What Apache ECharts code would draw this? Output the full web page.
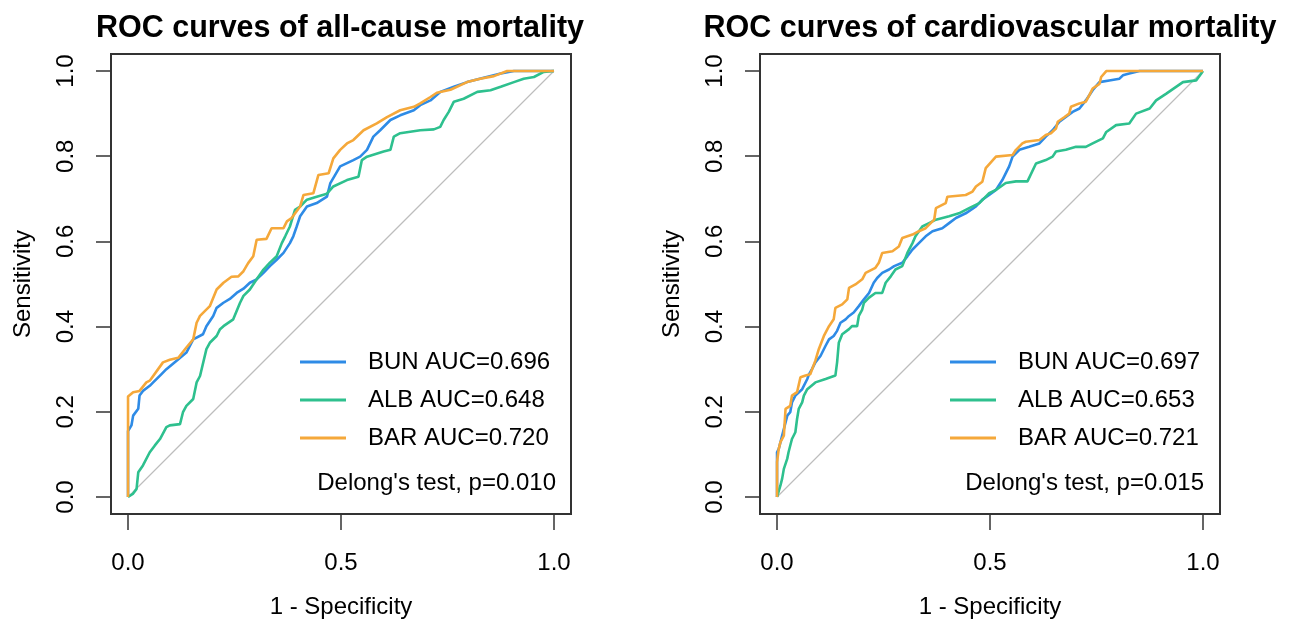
<!DOCTYPE html>
<html>
<head>
<meta charset="utf-8">
<script src="https://cdn.jsdelivr.net/npm/echarts@6/dist/echarts.min.js"></script>
<style>
  html, body { margin: 0; padding: 0; background: #fff; }
  #main { width: 1290px; height: 624px; }
</style>
</head>
<body>
<div id="main"></div>
<script>
// ROC points [1 - specificity, sensitivity]
var allBun = [[0,0],[0,0.155],[0.004,0.156],[0.008,0.168],[0.012,0.191],[0.024,0.207],[0.027,0.238],[0.035,0.249],[0.051,0.261],[0.059,0.269],[0.078,0.288],[0.090,0.300],[0.114,0.320],[0.137,0.339],[0.153,0.370],[0.176,0.382],[0.184,0.401],[0.200,0.425],[0.208,0.444],[0.224,0.456],[0.239,0.465],[0.255,0.479],[0.271,0.489],[0.286,0.503],[0.302,0.511],[0.318,0.526],[0.333,0.542],[0.349,0.557],[0.365,0.573],[0.380,0.596],[0.388,0.612],[0.396,0.635],[0.404,0.659],[0.420,0.682],[0.443,0.690],[0.467,0.705],[0.475,0.737],[0.498,0.776],[0.529,0.791],[0.545,0.799],[0.561,0.815],[0.576,0.846],[0.592,0.861],[0.616,0.885],[0.639,0.896],[0.671,0.908],[0.686,0.920],[0.710,0.931],[0.733,0.951],[0.765,0.963],[0.796,0.974],[0.835,0.984],[0.875,0.994],[0.906,1],[1,1]];
var allAlb = [[0,0],[0.012,0.008],[0.020,0.019],[0.024,0.058],[0.035,0.074],[0.051,0.105],[0.063,0.121],[0.075,0.136],[0.090,0.164],[0.098,0.168],[0.122,0.171],[0.129,0.199],[0.137,0.214],[0.153,0.230],[0.161,0.269],[0.169,0.284],[0.184,0.347],[0.192,0.362],[0.208,0.378],[0.216,0.394],[0.224,0.401],[0.247,0.417],[0.263,0.456],[0.271,0.472],[0.286,0.487],[0.302,0.511],[0.318,0.534],[0.333,0.550],[0.349,0.565],[0.361,0.596],[0.369,0.612],[0.380,0.635],[0.392,0.674],[0.404,0.682],[0.420,0.698],[0.443,0.705],[0.467,0.712],[0.482,0.729],[0.514,0.744],[0.541,0.752],[0.549,0.791],[0.561,0.799],[0.600,0.811],[0.616,0.815],[0.624,0.846],[0.639,0.854],[0.686,0.861],[0.718,0.863],[0.733,0.869],[0.741,0.885],[0.753,0.904],[0.765,0.928],[0.788,0.935],[0.820,0.951],[0.851,0.955],[0.875,0.963],[0.906,0.974],[0.929,0.982],[0.953,0.986],[0.976,0.998],[1,1]];
var allBar = [[0,0],[0,0.236],[0.012,0.246],[0.027,0.249],[0.043,0.269],[0.051,0.273],[0.082,0.316],[0.098,0.322],[0.118,0.327],[0.137,0.351],[0.153,0.370],[0.161,0.409],[0.169,0.425],[0.192,0.448],[0.208,0.487],[0.224,0.503],[0.243,0.517],[0.259,0.518],[0.271,0.530],[0.282,0.549],[0.294,0.565],[0.302,0.604],[0.325,0.606],[0.337,0.631],[0.365,0.631],[0.373,0.647],[0.384,0.655],[0.404,0.682],[0.412,0.709],[0.435,0.713],[0.447,0.756],[0.471,0.760],[0.482,0.795],[0.498,0.815],[0.514,0.830],[0.529,0.838],[0.553,0.861],[0.584,0.877],[0.608,0.892],[0.639,0.908],[0.671,0.916],[0.686,0.924],[0.710,0.939],[0.725,0.949],[0.757,0.956],[0.796,0.974],[0.827,0.982],[0.859,0.988],[0.890,1],[1,1]];

var cvdBun = [[0,0],[0,0.105],[0.004,0.113],[0.012,0.144],[0.020,0.175],[0.024,0.191],[0.031,0.199],[0.035,0.222],[0.043,0.238],[0.059,0.253],[0.071,0.277],[0.075,0.288],[0.082,0.300],[0.090,0.316],[0.102,0.331],[0.114,0.355],[0.122,0.370],[0.133,0.378],[0.141,0.390],[0.149,0.409],[0.161,0.417],[0.169,0.425],[0.180,0.433],[0.192,0.448],[0.204,0.464],[0.216,0.479],[0.227,0.503],[0.235,0.514],[0.247,0.526],[0.263,0.534],[0.275,0.542],[0.294,0.550],[0.306,0.565],[0.318,0.581],[0.333,0.596],[0.349,0.612],[0.365,0.624],[0.388,0.631],[0.404,0.643],[0.420,0.655],[0.443,0.666],[0.467,0.682],[0.482,0.698],[0.498,0.709],[0.514,0.721],[0.529,0.744],[0.545,0.776],[0.553,0.799],[0.569,0.815],[0.592,0.822],[0.616,0.830],[0.631,0.846],[0.647,0.861],[0.663,0.881],[0.678,0.892],[0.694,0.904],[0.710,0.912],[0.725,0.931],[0.741,0.955],[0.757,0.974],[0.780,0.978],[0.804,0.982],[0.812,0.990],[0.827,0.994],[0.851,1],[1,1]];
var cvdAlb = [[0,0],[0.008,0.027],[0.012,0.043],[0.016,0.066],[0.024,0.090],[0.027,0.105],[0.035,0.136],[0.043,0.152],[0.047,0.183],[0.051,0.207],[0.059,0.222],[0.063,0.238],[0.071,0.253],[0.090,0.269],[0.114,0.277],[0.137,0.285],[0.141,0.316],[0.145,0.362],[0.153,0.382],[0.169,0.394],[0.176,0.401],[0.188,0.401],[0.192,0.425],[0.200,0.440],[0.204,0.456],[0.216,0.468],[0.231,0.479],[0.247,0.479],[0.255,0.503],[0.267,0.518],[0.278,0.534],[0.294,0.542],[0.306,0.573],[0.318,0.596],[0.325,0.612],[0.341,0.635],[0.357,0.643],[0.373,0.651],[0.404,0.659],[0.427,0.666],[0.451,0.678],[0.475,0.690],[0.498,0.713],[0.514,0.721],[0.537,0.737],[0.561,0.741],[0.588,0.741],[0.608,0.783],[0.631,0.791],[0.647,0.799],[0.655,0.811],[0.678,0.815],[0.702,0.822],[0.725,0.822],[0.741,0.830],[0.765,0.842],[0.773,0.857],[0.796,0.873],[0.827,0.877],[0.843,0.900],[0.875,0.912],[0.890,0.931],[0.914,0.947],[0.953,0.974],[0.984,0.978],[0.996,0.994],[1,1]];
var cvdBar = [[0,0],[0,0.082],[0.004,0.113],[0.008,0.129],[0.016,0.144],[0.020,0.207],[0.031,0.214],[0.035,0.238],[0.047,0.246],[0.055,0.281],[0.067,0.285],[0.078,0.288],[0.090,0.320],[0.098,0.347],[0.110,0.378],[0.122,0.401],[0.133,0.417],[0.137,0.444],[0.153,0.452],[0.165,0.464],[0.169,0.491],[0.184,0.499],[0.200,0.511],[0.208,0.526],[0.231,0.538],[0.239,0.550],[0.247,0.573],[0.271,0.577],[0.286,0.588],[0.294,0.608],[0.318,0.616],[0.333,0.624],[0.349,0.631],[0.369,0.651],[0.373,0.678],[0.396,0.690],[0.400,0.705],[0.443,0.709],[0.459,0.717],[0.467,0.729],[0.482,0.740],[0.490,0.772],[0.514,0.799],[0.553,0.803],[0.561,0.815],[0.576,0.830],[0.584,0.834],[0.616,0.838],[0.631,0.850],[0.643,0.854],[0.655,0.865],[0.659,0.881],[0.675,0.892],[0.686,0.900],[0.690,0.916],[0.710,0.924],[0.725,0.928],[0.733,0.943],[0.741,0.959],[0.757,0.970],[0.761,0.986],[0.773,1],[1,1]];

var diagonal = [[0,0],[1,1]];
var tickValues = [0, 0.5, 1];
var yTickValues = [0, 0.2, 0.4, 0.6, 0.8, 1];
var titles = ['ROC curves of all-cause mortality', 'ROC curves of cardiovascular mortality'];
var allNames = ['BUN AUC=0.696', 'ALB AUC=0.648', 'BAR AUC=0.720'];
var cvdNames = ['BUN AUC=0.697', 'ALB AUC=0.653', 'BAR AUC=0.721'];
var pTexts = ["Delong's test, p=0.010", "Delong's test, p=0.015"];

var colors = ['#2e8be6', '#2ec08e', '#f5a83a'];
var font = '"Liberation Sans", Arial, sans-serif';

var chart = echarts.init(document.getElementById('main'));

function xAxisFor(i) {
    return {
        type: 'value', gridIndex: i, min: -0.04, max: 1.04,
        name: '1 - Specificity', nameLocation: 'middle', nameGap: 81,
        nameTextStyle: { fontSize: 24, color: '#000', fontFamily: font },
        axisLine: { show: false, onZero: false },
        splitLine: { show: false },
        axisTick: { show: true, inside: false, customValues: tickValues, length: 16, lineStyle: { color: '#333', width: 1.5 } },
        axisLabel: {
            customValues: tickValues, margin: 37, fontSize: 24, color: '#000', fontFamily: font,
            formatter: function (v) { return v.toFixed(1); }
        }
    };
}
function yAxisFor(i) {
    return {
        type: 'value', gridIndex: i, min: -0.04, max: 1.04,
        name: 'Sensitivity', nameLocation: 'middle', nameGap: 76,
        nameTextStyle: { fontSize: 24, color: '#000', fontFamily: font },
        axisLine: { show: false, onZero: false },
        splitLine: { show: false },
        axisTick: { show: true, inside: false, customValues: yTickValues, length: 15, lineStyle: { color: '#333', width: 1.5 } },
        axisLabel: {
            customValues: yTickValues, margin: 33, rotate: 90, fontSize: 24, color: '#000', fontFamily: font,
            formatter: function (v) { return v.toFixed(1); }
        }
    };
}
function rocSeries(i, names, sets) {
    var out = [{
        type: 'line', xAxisIndex: i, yAxisIndex: i, data: diagonal, symbol: 'none', silent: true,
        lineStyle: { color: '#bdbdbd', width: 1.2 }, z: 1
    }];
    sets.forEach(function (d, k) {
        out.push({
            name: names[k], type: 'line', xAxisIndex: i, yAxisIndex: i, data: d,
            symbol: 'none',
            itemStyle: { color: colors[k] },
            lineStyle: { color: colors[k], width: 2.6 }, z: 2 + k
        });
    });
    return out;
}
function legendFor(left, names) {
    return {
        data: names, left: left, top: 350, orient: 'vertical', padding: 0,
        icon: 'rect', itemWidth: 46, itemHeight: 3, itemGap: 14,
        selectedMode: false,
        textStyle: { fontSize: 24, color: '#000', fontFamily: font, lineHeight: 24, padding: [0, 0, 0, 17] }
    };
}

chart.setOption({
    animation: false,
    title: [
        { text: titles[0], left: 335, top: 8, textAlign: 'center',
          textStyle: { fontSize: 30.5, fontWeight: 'bold', color: '#000', fontFamily: font } },
        { text: titles[1], left: 985, top: 8, textAlign: 'center',
          textStyle: { fontSize: 30.5, fontWeight: 'bold', color: '#000', fontFamily: font } }
    ],
    grid: [
        { left: 111, top: 54, width: 460, height: 460, show: true, borderColor: '#333', borderWidth: 2, backgroundColor: '#fff' },
        { left: 760, top: 54, width: 460, height: 460, show: true, borderColor: '#333', borderWidth: 2, backgroundColor: '#fff' }
    ],
    xAxis: [xAxisFor(0), xAxisFor(1)],
    yAxis: [yAxisFor(0), yAxisFor(1)],
    legend: [legendFor(300, allNames), legendFor(950, cvdNames)],
    graphic: [
        { type: 'text', right: 1290 - 556, top: 471,
          style: { text: pTexts[0], fill: '#000', font: '24px ' + font } },
        { type: 'text', right: 1290 - 1204, top: 471,
          style: { text: pTexts[1], fill: '#000', font: '24px ' + font } }
    ],
    series: rocSeries(0, allNames, [allBun, allAlb, allBar]).concat(rocSeries(1, cvdNames, [cvdBun, cvdAlb, cvdBar]))
});
</script>
</body>
</html>
